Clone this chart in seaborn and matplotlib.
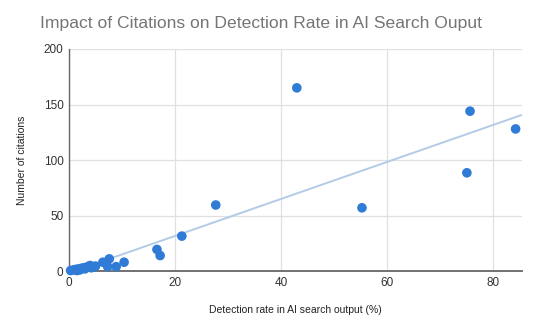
import numpy as np
import pandas as pd
import matplotlib
matplotlib.use("Agg")
import matplotlib.pyplot as plt
import seaborn as sns

# Detection rate (%) and citation counts per source
detection_rate = [0.3, 0.8, 1.2, 1.5, 1.8, 2.0, 2.3, 2.8, 3.0, 3.3, 3.8, 4.0, 4.2, 4.8, 5.0,
                  6.4, 7.6, 7.3, 8.9, 10.4, 16.6, 17.2, 21.3, 27.7, 43.0, 55.3, 75.1, 75.7, 84.3]
citations = [0.5, 1.0, 1.5, 0.5, 2.0, 1.0, 2.5, 3.0, 2.0, 3.5, 4.5, 5.0, 3.0, 4.0, 4.5,
             8.0, 11.0, 4.0, 4.0, 8.0, 19.5, 14.0, 31.5, 59.5, 165.0, 57.0, 88.5, 144.0, 128.0]

x_ticks = [0, 20, 40, 60, 80]
y_ticks = [0, 50, 100, 150, 200]

df = pd.DataFrame({"rate": detection_rate, "cites": citations})

sns.set_theme(style="white")
plt.rcParams["font.family"] = ["Liberation Sans", "DejaVu Sans"]

fig = plt.figure(figsize=(5.37, 3.31), dpi=100)
ax = fig.add_axes([0.1285, 0.181, 0.8435, 0.671])

ax.set_xlim(0, 85.5)
ax.set_ylim(0, 200)

# Trendline fitted through the points, spanning the full x range
sns.regplot(data=df, x="rate", y="cites", ax=ax, ci=None, truncate=False,
            scatter=False, line_kws={"color": "#b3cbe6", "linewidth": 1.4, "zorder": 2})
sns.scatterplot(data=df, x="rate", y="cites", ax=ax, color="#2f7bd6", s=48,
                edgecolor="none", zorder=3, clip_on=False)

ax.set_xlim(0, 85.5)
ax.set_ylim(0, 200)
ax.set_xticks(x_ticks)
ax.set_yticks(y_ticks)
ax.grid(True, color="#e0e0e0", linewidth=0.9, zorder=0)
ax.set_axisbelow(True)

for side in ["top", "right"]:
    ax.spines[side].set_visible(False)
ax.spines["left"].set_color("#666666")
ax.spines["left"].set_linewidth(1.0)
ax.spines["bottom"].set_color("#666666")
ax.spines["bottom"].set_linewidth(1.3)

ax.tick_params(axis="both", length=0, labelsize=8.5, labelcolor="#333333", pad=4)

ax.set_xlabel("Detection rate in AI search output (%)", fontsize=7.5, color="#222222", labelpad=12)
ax.set_ylabel("Number of citations", fontsize=7.5, color="#222222", labelpad=12)

fig.text(0.075, 0.915, "Impact of Citations on Detection Rate in AI Search Ouput",
         fontsize=12.6, color="#757575", ha="left", va="baseline")

fig.savefig("out.png", dpi=100, facecolor="white")
